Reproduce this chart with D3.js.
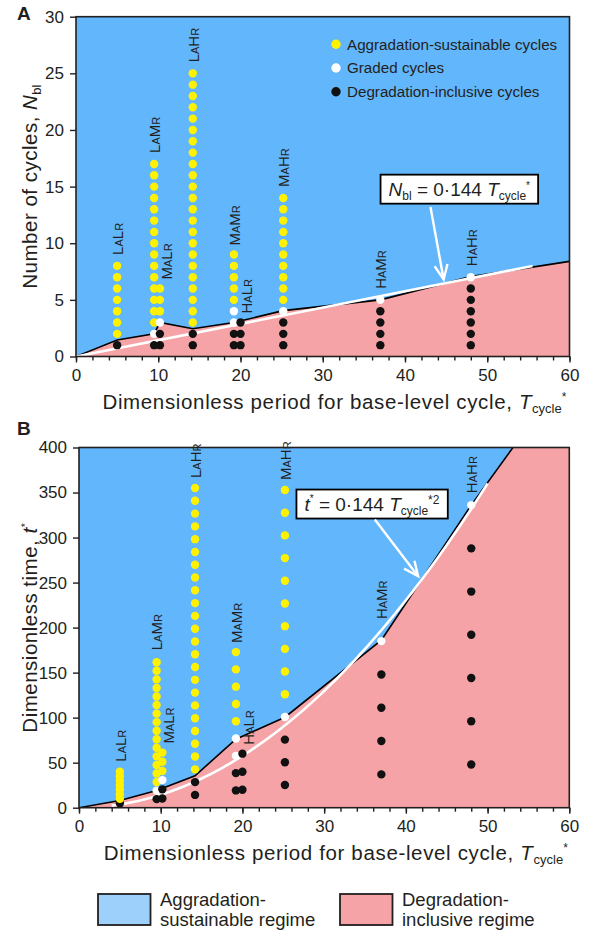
<!DOCTYPE html>
<html>
<head>
<meta charset="utf-8">
<script src="https://d3js.org/d3.v7.min.js"></script>
<style>
  body { margin: 0; background: #fff; }
  text { font-family: "Liberation Sans", Arial, sans-serif; fill: #231f20; }
</style>
</head>
<body>
<div id="chart"></div>
<script>
// runs: label letters (big, small, big, small), period and number of cycles by class
const runLabels = [["L","A","L","R"], ["L","A","M","R"], ["M","A","L","R"], ["L","A","H","R"],
                   ["M","A","M","R"], ["H","A","L","R"], ["M","A","H","R"], ["H","A","M","R"], ["H","A","H","R"]];
const runPeriod    = [5, 9.5, 10.2, 14.2, 19.2, 20, 25.2, 37, 48];
const nDegradation = [1, 1, 2, 2, 2, 3, 3, 4, 6];
const nGraded      = [0, 1, 1, 0, 2, 0, 1, 1, 1];
const nAggradation = [7, 15, 3, 23, 5, 0, 10, 0, 0];

// regime boundary (black line)
const boundaryA_T = [0, 5, 9.5, 10.2, 14.2, 19.2, 25.2, 37, 48, 60];
const boundaryA_N = [0, 1.45, 2.0, 3.0, 2.45, 3.0, 4.05, 5.0, 7.05, 8.4];
const boundaryB_T = [0, 5, 9.5, 14.2, 19.2, 25.2, 37, 48, 53.1];
const boundaryB_t = [0, 8, 19, 35.5, 76, 100.5, 186, 336, 400];

// fitted relations
const fitCoef = 0.144;
const fitA_range = [0, 55.5];
const fitB_range = [4, 50.2];

const xTicks = [0, 10, 20, 30, 40, 50, 60];
const xMinorTicks = d3.range(0, 61, 2);
const yTicksA = [0, 5, 10, 15, 20, 25, 30];
const yTicksB = [0, 50, 100, 150, 200, 250, 300, 350, 400];

const legendNames = ["Aggradation-sustainable cycles", "Graded cycles", "Degradation-inclusive cycles"];

const col = {
  blue: "#62b6fc", pink: "#f5a3a6", blueKey: "#9dd0fb",
  agg: "#fff200", graded: "#ffffff", deg: "#111111", ink: "#231f20"
};

const W = 592, H = 931;
const svg = d3.select("#chart").append("svg").attr("width", W).attr("height", H);

// build point list: cycle number n for each run
const points = [];
runPeriod.forEach((T, i) => {
  const total = nDegradation[i] + nGraded[i] + nAggradation[i];
  for (let n = 1; n <= total; n++) {
    const cls = n <= nDegradation[i] ? "deg" : (n <= nDegradation[i] + nGraded[i] ? "graded" : "agg");
    points.push({ run: i, T: T, n: n, t: n * T, cls: cls });
  }
});

function panel(opt) {
  const x = d3.scaleLinear().domain([0, 60]).range([opt.x0, opt.x1]);
  const y = d3.scaleLinear().domain([0, opt.ymax]).range([opt.y0, opt.y1]);
  const line = d3.line().x(d => x(d[0])).y(d => y(d[1]));
  const g = svg.append("g");
  const clipId = "clip" + opt.name;
  svg.append("clipPath").attr("id", clipId).append("rect")
    .attr("x", opt.x0).attr("y", opt.y1).attr("width", opt.x1 - opt.x0).attr("height", opt.y0 - opt.y1);
  const pg = g.append("g").attr("clip-path", `url(#${clipId})`);

  // regime areas
  pg.append("rect").attr("x", opt.x0).attr("y", opt.y1)
    .attr("width", opt.x1 - opt.x0).attr("height", opt.y0 - opt.y1).attr("fill", col.blue);
  const bnd = opt.bT.map((d, i) => [d, opt.bV[i]]);
  pg.append("path").datum(bnd.concat(opt.closing))
    .attr("d", d => line(d) + "Z")
    .attr("fill", col.pink);
  pg.append("path").datum(bnd)
    .attr("d", line)
    .attr("fill", "none").attr("stroke", "#000").attr("stroke-width", 1.6);

  // fit line
  pg.append("path").datum(opt.fit)
    .attr("d", line)
    .attr("fill", "none").attr("stroke", "#fff").attr("stroke-width", 2.6);

  // points
  pg.selectAll("circle.pt").data(points).join("circle")
    .attr("class", "pt")
    .attr("cx", d => x(d.T)).attr("cy", d => y(opt.val(d)))
    .attr("r", 4.2)
    .attr("fill", d => col[d.cls]);

  // run labels
  runLabels.forEach((lab, i) => {
    const top = d3.max(points.filter(p => p.run === i), p => opt.val(p));
    const lx = x(runPeriod[i]) + opt.ldx[i];
    const ly = y(top) - opt.lgap[i];
    const t = g.append("text")
      .attr("transform", `translate(${lx},${ly}) rotate(-90)`)
      .attr("dy", "0.36em").attr("fill", "#000");
    lab.forEach((ch, k) => {
      t.append("tspan").attr("font-size", k % 2 ? 11 : 15).text(ch);
    });
  });

  // axes
  g.append("g").attr("transform", `translate(0,${opt.y0})`)
    .call(d3.axisBottom(x).tickValues(xMinorTicks).tickSize(4).tickFormat(""))
    .call(a => a.select(".domain").remove());
  g.append("g").attr("transform", `translate(0,${opt.y0})`)
    .call(d3.axisBottom(x).tickValues(xTicks).tickSize(6).tickPadding(6).tickFormat(d3.format("d")))
    .call(a => a.select(".domain").remove())
    .selectAll("text").attr("font-size", 17).attr("font-family", "Liberation Sans, Arial, sans-serif").attr("fill", col.ink);
  g.append("g").attr("transform", `translate(${opt.x0},0)`)
    .call(d3.axisLeft(y).tickValues(opt.yTicks).tickSize(6).tickPadding(6).tickFormat(d3.format("d")))
    .call(a => a.select(".domain").remove())
    .selectAll("text").attr("font-size", 17).attr("font-family", "Liberation Sans, Arial, sans-serif").attr("fill", col.ink);
  g.selectAll(".tick line").attr("stroke", col.ink).attr("stroke-width", 1.4);

  // frame
  g.append("rect").attr("x", opt.x0).attr("y", opt.y1)
    .attr("width", opt.x1 - opt.x0).attr("height", opt.y0 - opt.y1)
    .attr("fill", "none").attr("stroke", col.ink).attr("stroke-width", 1.6);

  // x title
  const xt = g.append("text").attr("x", (opt.x0 + opt.x1) / 2 + 12).attr("y", opt.y0 + 52)
    .attr("text-anchor", "middle").attr("font-size", 20.5).attr("letter-spacing", 0.65);
  xt.append("tspan").text("Dimensionless period for base-level cycle, ");
  xt.append("tspan").attr("font-style", "italic").text("T");
  xt.append("tspan").attr("font-size", 13).attr("dy", 4).attr("letter-spacing", 0).text("cycle");
  xt.append("tspan").attr("font-size", 12).attr("dy", -12).text("*");

  // y title
  const yt = g.append("text")
    .attr("transform", `translate(37,${(opt.y0 + opt.y1) / 2}) rotate(-90)`)
    .attr("text-anchor", "middle").attr("font-size", 20.5).attr("letter-spacing", 0.5);
  opt.yTitle(yt);

  // panel letter
  g.append("text").attr("x", opt.letterX).attr("y", opt.letterY)
    .attr("font-size", 19).attr("font-weight", "bold").attr("fill", "#000").text(opt.name);

  // formula box with arrow
  const fb = g.append("g");
  const ft = fb.append("text").attr("x", x(opt.boxAt[0])).attr("y", y(opt.boxAt[1]))
    .attr("text-anchor", "middle").attr("font-size", 19).attr("fill", "#000");
  opt.formula(ft);
  const bb = ft.node().getBBox();
  fb.insert("rect", "text").attr("x", bb.x - 8).attr("y", y(opt.boxAt[1]) - 21)
    .attr("width", bb.width + 16).attr("height", 29)
    .attr("fill", "#fff").attr("stroke", "#000").attr("stroke-width", 1.8);
  const ax0 = x(opt.arrow[0][0]), ay0 = y(opt.arrow[0][1]);
  const ax1 = x(opt.arrow[1][0]), ay1 = y(opt.arrow[1][1]);
  const ang = Math.atan2(ay1 - ay0, ax1 - ax0);
  const hl = 16, hw = 0.42;
  g.append("path")
    .attr("d", `M${ax0},${ay0}L${ax1},${ay1}` +
      `M${ax1 - hl * Math.cos(ang - hw)},${ay1 - hl * Math.sin(ang - hw)}L${ax1},${ay1}` +
      `L${ax1 - hl * Math.cos(ang + hw)},${ay1 - hl * Math.sin(ang + hw)}`)
    .attr("fill", "none").attr("stroke", "#fff").attr("stroke-width", 2.4)
    .attr("stroke-linejoin", "miter");

  return { x, y, g };
}

// Panel A
const pA = panel({
  name: "A", x0: 76, x1: 569.5, y0: 356.5, y1: 16.7, ymax: 30,
  bT: boundaryA_T, bV: boundaryA_N, closing: [[60, 0]],
  fit: fitA_range.map(T => [T, fitCoef * T]),
  val: d => d.n, yTicks: yTicksA,
  ldx: [0, 0, 6, 0, 0, 6, 0, 0, 0],
  lgap: [11, 11, 9, 11, 9, 9, 11, 11, 11],
  letterX: 17, letterY: 20,
  yTitle: t => {
    t.append("tspan").text("Number of cycles, ");
    t.append("tspan").attr("font-style", "italic").text("N");
    t.append("tspan").attr("font-size", 13).attr("dy", 4).attr("letter-spacing", 0).text("bl");
  },
  boxAt: [46.6, 14.2],
  formula: t => {
    t.append("tspan").attr("font-style", "italic").text("N");
    t.append("tspan").attr("font-size", 12).attr("dy", 4).text("bl");
    t.append("tspan").attr("dy", -4).text(" = 0\u00b7144  ");
    t.append("tspan").attr("font-style", "italic").text("T");
    t.append("tspan").attr("font-size", 12).attr("dy", 4).text("cycle");
    t.append("tspan").attr("font-size", 10).attr("dy", -11).text("*");
  },
  arrow: [[43.1, 13.2], [44.7, 6.8]]
});

// Panel B
const fitB = d3.range(fitB_range[0], fitB_range[1] + 0.01, 0.4).map(T => [T, fitCoef * T * T]);
const pB = panel({
  name: "B", x0: 79, x1: 569.3, y0: 807.7, y1: 447.5, ymax: 400,
  bT: boundaryB_T, bV: boundaryB_t, closing: [[60, 400], [60, 0]],
  fit: fitB,
  val: d => d.t, yTicks: yTicksB,
  ldx: [0, 0, 6, 0, 0, 6, 0, 0, 0],
  lgap: [10, 12, 9, 10, 9, 9, 10, 22, 12],
  letterX: 17, letterY: 435,
  yTitle: t => {
    t.append("tspan").text("Dimensionless time, ");
    t.append("tspan").attr("font-style", "italic").text("t");
    t.append("tspan").attr("font-size", 11).attr("dy", -8).text("*");
  },
  boxAt: [35.85, 330],
  formula: t => {
    t.append("tspan").attr("font-style", "italic").text("t");
    t.append("tspan").attr("font-size", 10).attr("dy", -9).text("*");
    t.append("tspan").attr("dy", 9).text(" = 0\u00b7144  ");
    t.append("tspan").attr("font-style", "italic").text("T");
    t.append("tspan").attr("font-size", 12).attr("dy", 4).text("cycle");
    t.append("tspan").attr("font-size", 12).attr("dy", -11).text("*2");
  },
  arrow: [[36.2, 320], [41.5, 257]]
});

// legend for points (panel A)
const lg = svg.append("g");
legendNames.forEach((name, i) => {
  const cls = ["agg", "graded", "deg"][i];
  const ly = 44.3 + i * 23.7;
  lg.append("circle").attr("cx", 336).attr("cy", ly).attr("r", 4.7).attr("fill", col[cls]);
  lg.append("text").attr("x", 347).attr("y", ly + 5.2).attr("font-size", 15.2).attr("fill", "#000").text(name);
});

// legend for regimes
const regimeKeys = [
  { fill: col.blueKey, lines: ["Aggradation-", "sustainable regime"], x: 98 },
  { fill: col.pink, lines: ["Degradation-", "inclusive regime"], x: 340 }
];
regimeKeys.forEach(k => {
  svg.append("rect").attr("x", k.x).attr("y", 894).attr("width", 52.5).attr("height", 31)
    .attr("fill", k.fill).attr("stroke", col.ink).attr("stroke-width", 1.8);
  k.lines.forEach((s, j) => {
    svg.append("text").attr("x", k.x + 62).attr("y", 906 + j * 20)
      .attr("font-size", 18.5).text(s);
  });
});
</script>
</body>
</html>
